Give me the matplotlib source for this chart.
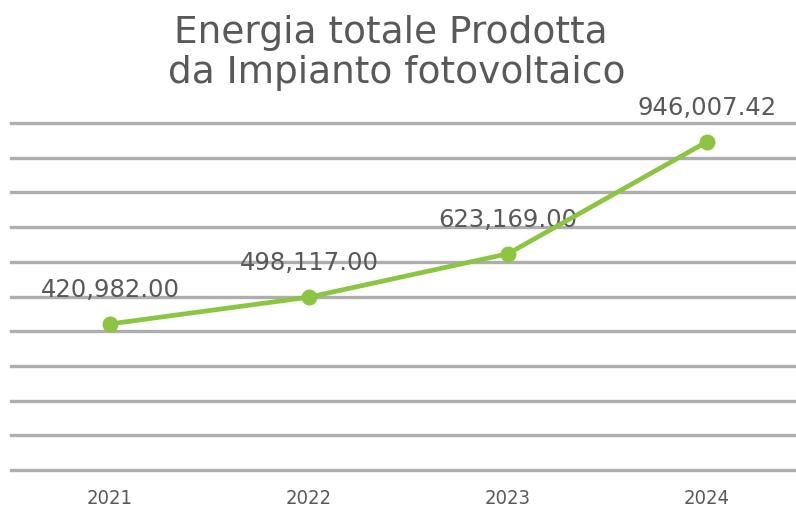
import matplotlib.pyplot as plt

years = ["2021", "2022", "2023", "2024"]
energia = [420982.00, 498117.00, 623169.00, 946007.42]
value_labels = ["420,982.00", "498,117.00", "623,169.00", "946,007.42"]
grid_levels = [i * 100000 for i in range(11)]

text_col = "#595959"
line_col = "#8BC541"

fig = plt.figure(figsize=(7.96, 5.10), dpi=100)
ax = fig.add_axes([10.5 / 796, 39 / 510, 796 / 796, 347 / 510])

# horizontal gridlines every 100k, no y labels
for g in grid_levels:
    ax.axhline(g, color="#AEAEAE", lw=2.4, zorder=0, clip_on=False)

x = list(range(len(years)))
ax.plot(x, energia, color=line_col, lw=3.4, marker="o", ms=10.5,
        solid_capstyle="round", zorder=5)

for xi, v, lab in zip(x, energia, value_labels):
    ax.annotate(lab, (xi, v), xytext=(0, 25), textcoords="offset points",
                ha="center", va="center", fontsize=17.5, color=text_col,
                zorder=2)

ax.set_xlim(-0.5, 3.5)
ax.set_ylim(0, 1000000)
ax.set_xticks(x)
ax.set_xticklabels(years, fontsize=14.5, color=text_col, fontstretch="condensed")
ax.set_yticks([])
ax.tick_params(axis="x", length=0, pad=13)
for s in ax.spines.values():
    s.set_visible(False)

fig.text(391 / 796, 1 - 53 / 510, "Energia totale Prodotta\n da Impianto fotovoltaico",
         ha="center", va="center", fontsize=27, color=text_col,
         linespacing=1.13)

fig.savefig("out.png", dpi=100)
